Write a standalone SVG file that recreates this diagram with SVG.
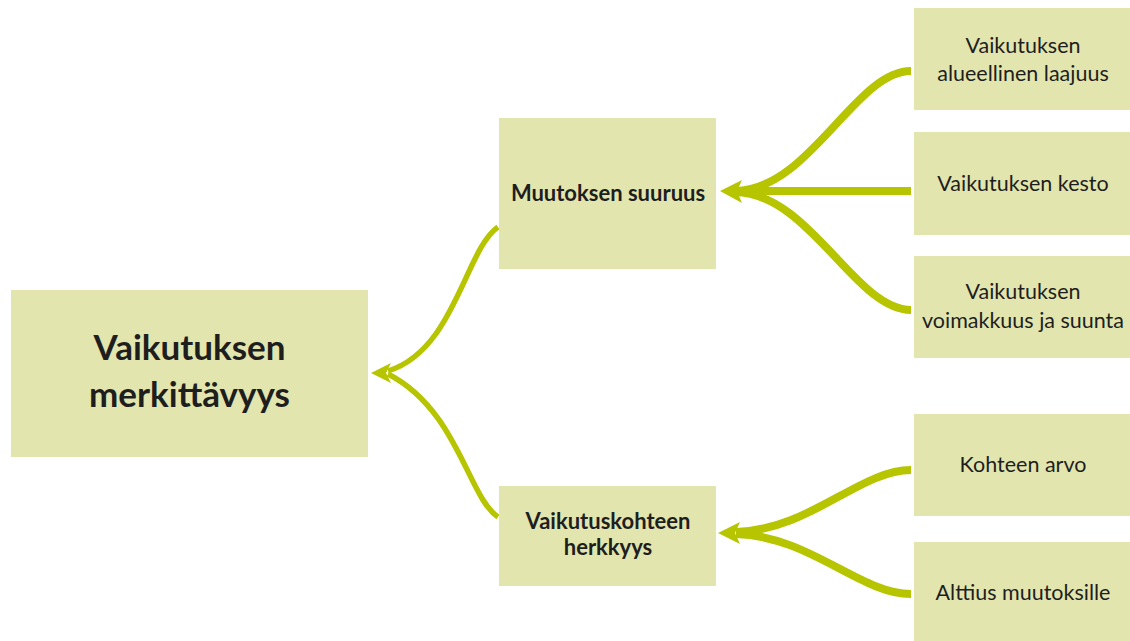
<svg xmlns="http://www.w3.org/2000/svg" width="1130" height="641" viewBox="0 0 1130 641">
<style>
.box{fill:#e2e5ae}
.t{font-family:Lato,"Liberation Sans",sans-serif;fill:#1e1e1e;text-anchor:middle}
.r{font-size:21.5px}
.b{font-weight:bold}
.m{font-size:22px}
.big{font-size:35px}
.c{fill:none;stroke:#b6c500;stroke-linecap:butt}
.w{stroke-width:8}
.n{stroke-width:5.5}
.h{fill:#b6c500}
</style>
<rect width="1130" height="641" fill="#ffffff"/>
<g id="connectors">
<path class="c n" d="M498,227 C465,250 455,350 388,371"/>
<path class="c n" d="M498,517 C468,497 458,410 388,374"/>
<polygon class="h" points="371,373 391,363 386,373 391,383"/>
<path class="c w" d="M911,71 C855,71 810,190 735,191"/>
<path class="c w" d="M911,191 L735,191"/>
<path class="c w" d="M911,310 C855,310 810,193 735,192"/>
<polygon class="h" points="720,191 742,180 737,191 742,203"/>
<path class="c w" d="M911,470 C860,470 810,530 736,532"/>
<path class="c w" d="M911,594 C860,594 810,536 736,534"/>
<polygon class="h" points="718,533 740,522 735,533 740,544"/>
</g>
<g id="node-main">
<rect class="box" x="11" y="290" width="357" height="167"/>
<text class="t b big" x="189.5" y="360">Vaikutuksen</text>
<text class="t b big" x="189.5" y="407">merkittävyys</text>
</g>
<g id="node-muutoksen">
<rect class="box" x="499" y="118" width="217" height="151"/>
<text class="t b m" x="608" y="201">Muutoksen suuruus</text>
</g>
<g id="node-herkkyys">
<rect class="box" x="499" y="486" width="217" height="100"/>
<text class="t b m" x="608" y="529">Vaikutuskohteen</text>
<text class="t b m" x="608" y="555">herkkyys</text>
</g>
<g id="node-laajuus">
<rect class="box" x="914" y="8" width="216" height="102"/>
<text class="t r" x="1023" y="53">Vaikutuksen</text>
<text class="t r" x="1023" y="81">alueellinen laajuus</text>
</g>
<g id="node-kesto">
<rect class="box" x="914" y="132" width="216" height="103"/>
<text class="t r" x="1023" y="191">Vaikutuksen kesto</text>
</g>
<g id="node-voimakkuus">
<rect class="box" x="914" y="256" width="216" height="102"/>
<text class="t r" x="1023" y="299">Vaikutuksen</text>
<text class="t r" x="1023" y="328">voimakkuus ja suunta</text>
</g>
<g id="node-arvo">
<rect class="box" x="914" y="414" width="216" height="102"/>
<text class="t r" x="1023" y="472">Kohteen arvo</text>
</g>
<g id="node-alttius">
<rect class="box" x="914" y="542" width="216" height="99"/>
<text class="t r" x="1023" y="600">Alttius muutoksille</text>
</g>
</svg>
